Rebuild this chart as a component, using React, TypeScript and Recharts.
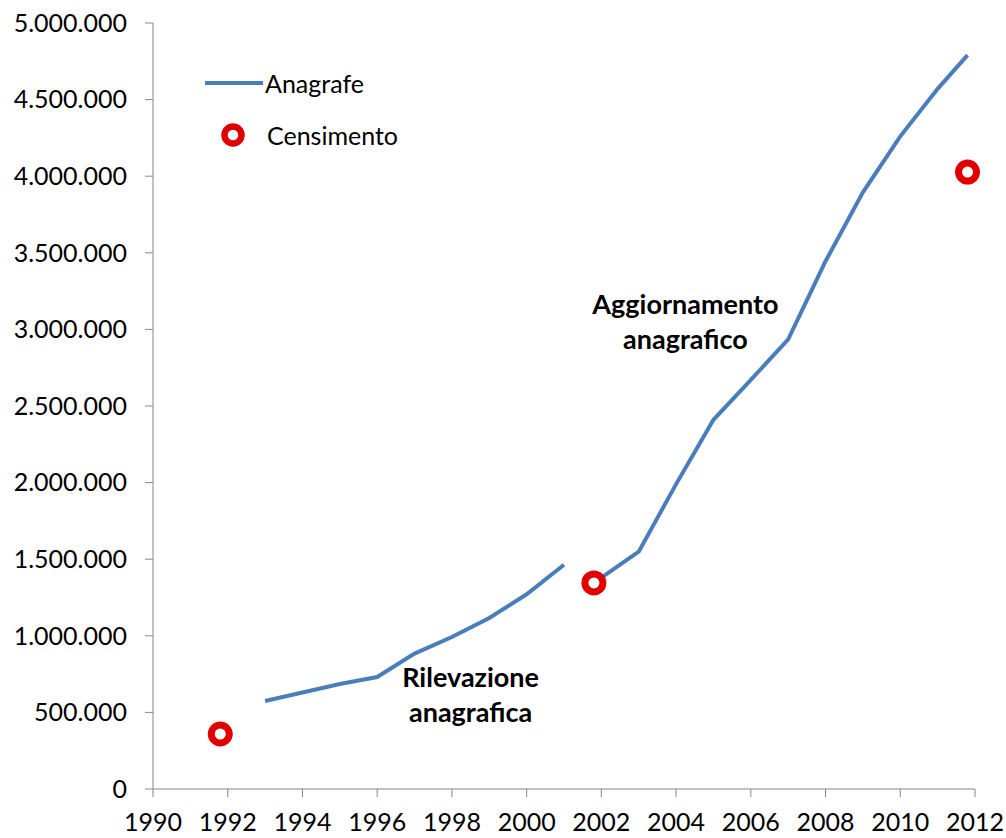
import { ComposedChart, Line, XAxis, YAxis, Legend, ReferenceDot } from 'recharts';

// Anagrafe, fase "Rilevazione anagrafica"
const YEARS_RIL = [1993, 1994, 1995, 1996, 1997, 1998, 1999, 2000, 2001];
const ANAGRAFE_RIL = [574000, 630000, 685000, 731000, 884000, 992000, 1116000, 1271000, 1464000];

// Anagrafe, fase "Aggiornamento anagrafico" (riparte dal censimento 2001)
const YEARS_AGG = [2001.8, 2003, 2004, 2005, 2006, 2007, 2008, 2009, 2010, 2011, 2011.8];
const ANAGRAFE_AGG = [1345000, 1549000, 1990000, 2410000, 2670000, 2935000, 3445000, 3895000, 4260000, 4570000, 4790000];

// Censimenti
const CENSUS_YEARS = [1991.8, 2001.8, 2011.8];
const CENSUS_VALUES = [359000, 1345000, 4027000];

const X_TICKS = [1990, 1992, 1994, 1996, 1998, 2000, 2002, 2004, 2006, 2008, 2010, 2012];
const Y_TICKS = [0, 500000, 1000000, 1500000, 2000000, 2500000, 3000000, 3500000, 4000000, 4500000, 5000000];

const SERIES_NAMES = ['Anagrafe', 'Censimento'];

const segRil = YEARS_RIL.map((year, i) => ({ year, value: ANAGRAFE_RIL[i] }));
const segAgg = YEARS_AGG.map((year, i) => ({ year, value: ANAGRAFE_AGG[i] }));
const census = CENSUS_YEARS.map((year, i) => ({ year, value: CENSUS_VALUES[i] }));

const BLUE = '#4a7ebb';
const RED = '#e00000';
const AXIS = '#868686';
const FONT = 'Lato, "Open Sans", sans-serif';

const fmt = (v: number) => String(v).replace(/\B(?=(\d{3})+(?!\d))/g, '.');

function twoLines(lines: string[]) {
  return (props: any) => {
    const vb = props.viewBox || {};
    const cx = (vb.x ?? 0) + (vb.width ?? 0) / 2;
    const cy = (vb.y ?? 0) + (vb.height ?? 0) / 2;
    return (
      <g>
        {lines.map((t, i) => (
          <text key={t} x={cx} y={cy + i * 35 + 9.5} textAnchor="middle" fontFamily={FONT} fontWeight={700} fontSize={27} fill="#000">
            {t}
          </text>
        ))}
      </g>
    );
  };
}

function LegendBox() {
  return (
    <div style={{ fontFamily: FONT, fontSize: 25, color: '#000' }}>
      <div style={{ display: 'flex', alignItems: 'center', height: 52 }}>
        <svg width={58} height={10} style={{ display: 'block' }}>
          <line x1={0} y1={5} x2={58} y2={5} stroke={BLUE} strokeWidth={4} />
        </svg>
        <span style={{ marginLeft: 2 }}>{SERIES_NAMES[0]}</span>
      </div>
      <div style={{ display: 'flex', alignItems: 'center', height: 52 }}>
        <svg width={58} height={28} style={{ display: 'block' }}>
          <circle cx={28} cy={14} r={8.5} fill="#fff" stroke={RED} strokeWidth={6.5} />
        </svg>
        <span style={{ marginLeft: 4 }}>{SERIES_NAMES[1]}</span>
      </div>
    </div>
  );
}

export default function App() {
  return (
    <div style={{ position: 'absolute', left: 0, top: 0, width: 1006, height: 838, background: '#fff' }}>
      <ComposedChart width={1006} height={838} margin={{ top: 23, right: 31, bottom: 0, left: 0 }}>
        <XAxis
          type="number"
          dataKey="year"
          domain={[1990, 2012]}
          ticks={X_TICKS}
          interval={0}
          height={49}
          tickSize={8}
          tickMargin={16}
          stroke={AXIS}
          tick={{ fill: '#000', fontSize: 25, fontFamily: FONT }}
        />
        <YAxis
          type="number"
          domain={[0, 5000000]}
          ticks={Y_TICKS}
          interval={0}
          width={153}
          tickSize={8}
          tickMargin={18}
          stroke={AXIS}
          tickFormatter={fmt}
          tick={{ fill: '#000', fontSize: 25, fontFamily: FONT }}
        />
        <Legend
          layout="vertical"
          align="center"
          verticalAlign="middle"
          wrapperStyle={{ left: 205, top: 57, width: 260 }}
          content={() => <LegendBox />}
        />
        <Line data={segRil} dataKey="value" name={SERIES_NAMES[0]} type="linear" stroke={BLUE} strokeWidth={4} dot={false} activeDot={false} isAnimationActive={false} />
        <Line data={segAgg} dataKey="value" name={SERIES_NAMES[0]} type="linear" stroke={BLUE} strokeWidth={4} dot={false} activeDot={false} isAnimationActive={false} />
        <Line
          data={census}
          dataKey="value"
          name={SERIES_NAMES[1]}
          type="linear"
          stroke="none"
          dot={{ r: 9, fill: '#fff', stroke: RED, strokeWidth: 7 }}
          activeDot={false}
          isAnimationActive={false}
        />
        <ReferenceDot x={2004.25} y={3160000} r={0} fill="none" stroke="none" label={{ content: twoLines(['Aggiornamento', 'anagrafico']) }} />
        <ReferenceDot x={1998.5} y={725000} r={0} fill="none" stroke="none" label={{ content: twoLines(['Rilevazione', 'anagrafica']) }} />
      </ComposedChart>
    </div>
  );
}
